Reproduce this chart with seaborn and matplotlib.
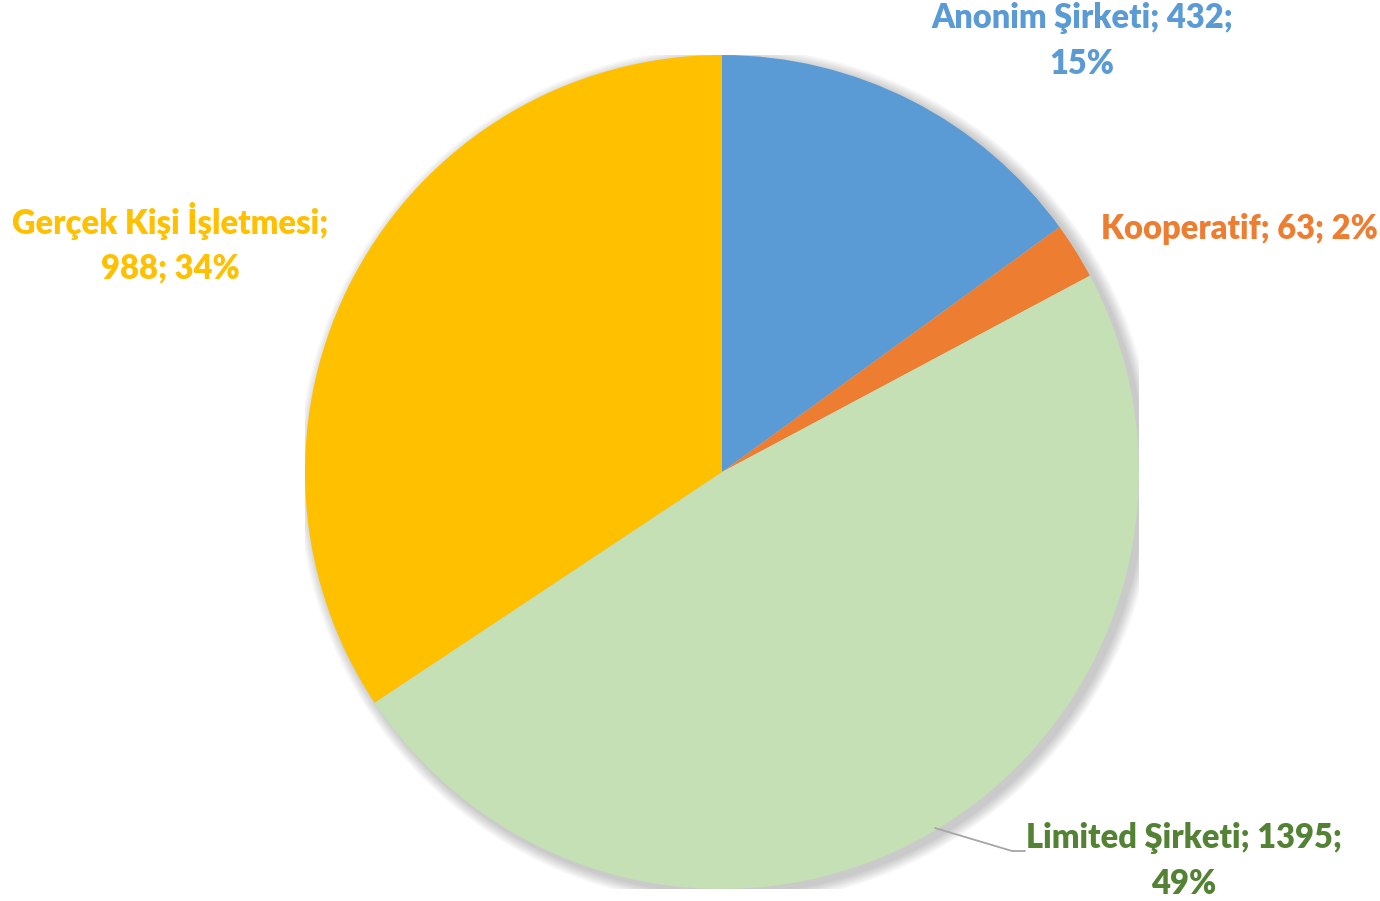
import matplotlib
matplotlib.use("Agg")
import matplotlib.pyplot as plt
import seaborn as sns
from matplotlib.patches import Circle

sns.set_theme(style="white")
plt.rcParams['font.family'] = ['Lato', 'DejaVu Sans']

categories = ["Anonim Şirketi", "Kooperatif", "Limited Şirketi", "Gerçek Kişi İşletmesi"]
values = [432, 63, 1395, 988]
percents = ["15%", "2%", "49%", "34%"]
slice_colors = ["#5B9BD5", "#ED7D31", "#C5E0B4", "#FFC000"]
label_colors = ["#5B9BD5", "#ED7D31", "#548235", "#FFC000"]

W, H = 1380, 901
fig = plt.figure(figsize=(W / 100, H / 100), dpi=100)
cx, cy, r = 722, 472, 417
ax = fig.add_axes([(cx - r) / W, (H - cy - r) / H, 2 * r / W, 2 * r / H])
ax.set_xlim(-1, 1)
ax.set_ylim(-1, 1)
ax.set_aspect("equal")
ax.axis("off")

# soft shadow
for i in range(7):
    s = 0.004 * (i + 1)
    ax.add_patch(Circle((0.012, -0.010), 1 + s, color="#000000", alpha=0.03, lw=0, zorder=0))

ax.pie(values, colors=slice_colors, startangle=90, counterclock=False,
       radius=1, wedgeprops=dict(linewidth=0), frame=False)
ax.set_xlim(-1, 1)
ax.set_ylim(-1, 1)

fs = 23.5
def ftxt(x, y, s, c):
    fig.text(x / W, 1 - y / H, s, color=c, fontsize=fs, fontweight="heavy",
             ha="center", va="center", linespacing=1.5)

ftxt(1082, 41, f"{categories[0]}; {values[0]};\n{percents[0]}", label_colors[0])
ftxt(1239, 229, f"{categories[1]}; {values[1]}; {percents[1]}", label_colors[1])
ftxt(1184, 861, f"{categories[2]}; {values[2]};\n{percents[2]}", label_colors[2])
ftxt(170, 243, f"{categories[3]};\n{values[3]}; {percents[3]}", label_colors[3])

# leader line for Limited label
fig.add_artist(plt.Line2D([935 / W, 1012 / W, 1025 / W],
                          [1 - 828 / H, 1 - 851 / H, 1 - 851 / H],
                          color="#A6A6A6", lw=1.3))

fig.savefig("out.png", dpi=100, facecolor="white")
